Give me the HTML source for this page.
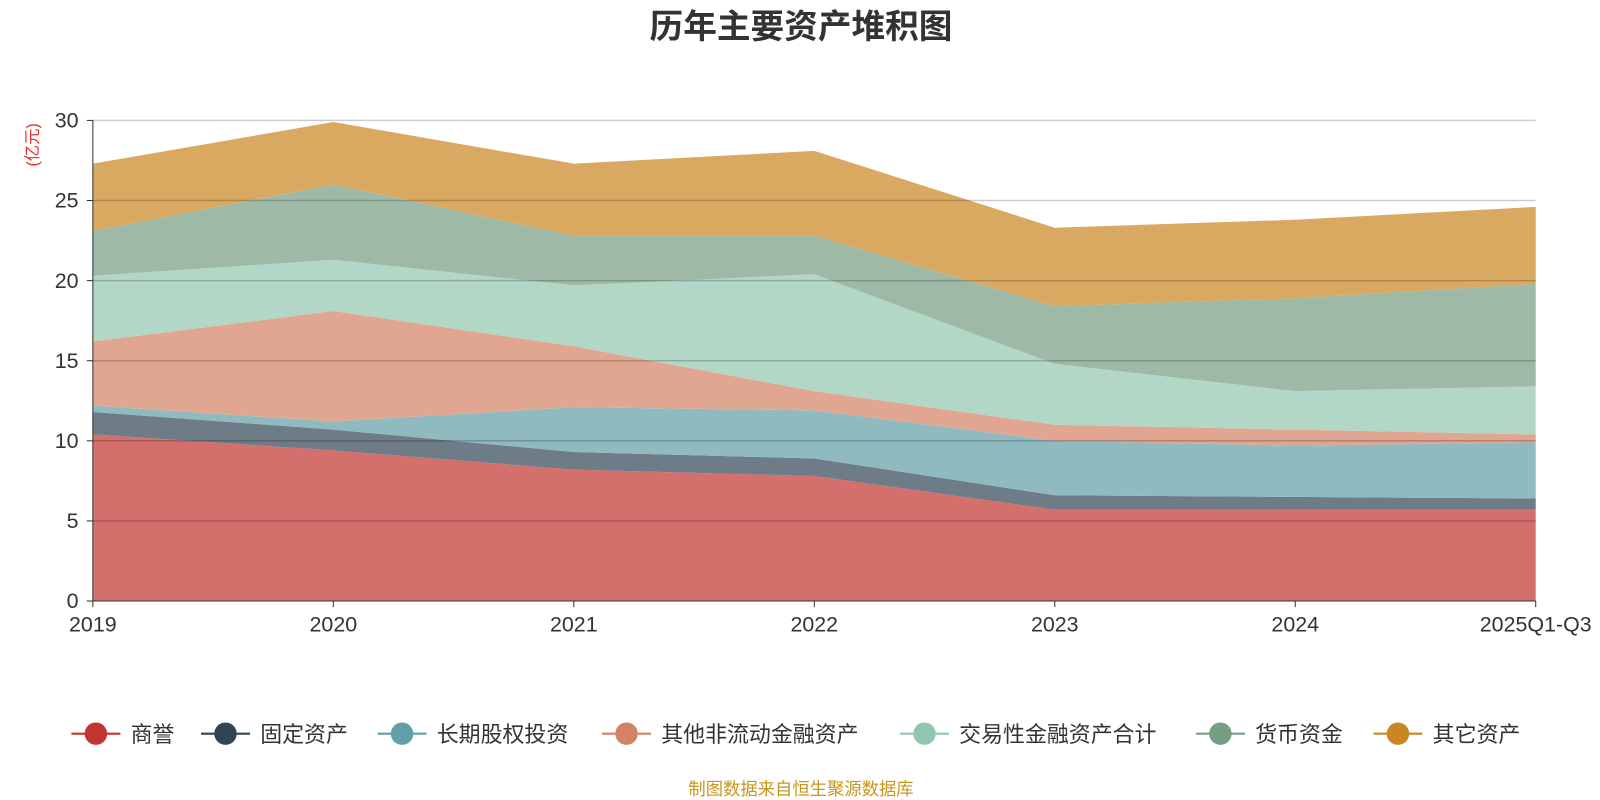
<!DOCTYPE html>
<html><head><meta charset="utf-8"><style>
body{margin:0;background:#fff;}
svg{display:block;font-family:"Liberation Sans","Noto Sans CJK SC",sans-serif;}
</style></head><body>
<svg id="c" width="1600" height="800" viewBox="0 0 1568 784">
<text x="785" y="37" text-anchor="middle" font-size="33" font-weight="bold" fill="#333">历年主要资产堆积图</text>
<text transform="translate(37,142) rotate(-90)" text-anchor="middle" font-size="16" fill="#e03030">(亿元)</text>
<text x="785" y="779" text-anchor="middle" font-size="17" fill="#c8961e">制图数据来自恒生聚源数据库</text>
<g id="areas"></g><g id="grid"></g><g id="axes"></g><g id="legend"></g>
</svg>
<script>
const categories=["2019","2020","2021","2022","2023","2024","2025Q1-Q3"];
const seriesNames=["商誉","固定资产","长期股权投资","其他非流动金融资产","交易性金融资产合计","货币资金","其它资产"];
const sGoodwill=[10.4,9.4,8.2,7.8,5.7,5.7,5.7];
const sFixed=[1.4,1.3,1.1,1.1,0.9,0.8,0.7];
const sEquity=[0.4,0.5,2.8,3.0,3.4,3.2,3.5];
const sOtherFin=[4.0,6.9,3.8,1.2,1.0,1.0,0.5];
const sTrading=[4.1,3.2,3.8,7.3,3.8,2.4,3.0];
const sCash=[2.8,4.7,3.1,2.4,3.6,5.8,6.4];
const sOther=[4.2,3.9,4.5,5.3,4.9,4.9,4.8];
const yTicks=[0,5,10,15,20,25,30];
const series=[sGoodwill,sFixed,sEquity,sOtherFin,sTrading,sCash,sOther];
const fills=["#d4706c","#6e7c87","#8fbac0","#e0a691","#b2d7c6","#9eb9a6","#d9a962"];
const colors=["#c23531","#2f4554","#61a0a8","#d48265","#91c7ae","#749f83","#ca8622"];
const NS="http://www.w3.org/2000/svg";
const x0=91,x1=1505,y0=589,y1=118;
const xs=i=>x0+(x1-x0)*i/(categories.length-1);
const ys=v=>y0-(y0-y1)*v/30;
function mk(t,a,p){const e=document.createElementNS(NS,t);for(const k in a)e.setAttribute(k,a[k]);p.appendChild(e);return e;}
const areas=document.getElementById('areas');
let base=categories.map(()=>0);
series.forEach((s,si)=>{
 const top=base.map((b,i)=>b+s[i]);
 let d="M"+top.map((v,i)=>xs(i)+","+ys(v)).join("L");
 for(let i=categories.length-1;i>=0;i--)d+="L"+xs(i)+","+ys(base[i]);
 const p=mk('path',{d:d+"Z",fill:fills[si]},areas);
 
 
 base=top;
});
const grid=document.getElementById('grid'),axes=document.getElementById('axes');
yTicks.forEach(t=>{
 if(t>0){const l=mk('line',{x1:x0,x2:x1,y1:ys(t),y2:ys(t),stroke:"rgba(0,0,0,0.2)","stroke-width":1.5},grid);
 
 }
 mk('line',{x1:x0-6,x2:x0,y1:ys(t),y2:ys(t),stroke:"#333"},axes);
 const tx=mk('text',{x:x0-14,y:ys(t)+7,"text-anchor":"end","font-size":21,fill:"#333"},axes);
 tx.textContent=t;
 
 
});
mk('line',{x1:x0,x2:x0,y1:y1,y2:y0,stroke:"#333"},axes);
mk('line',{x1:x0,x2:x1,y1:y0,y2:y0,stroke:"#333"},axes);
categories.forEach((c,i)=>{
 mk('line',{x1:xs(i),x2:xs(i),y1:y0,y2:y0+6,stroke:"#333"},axes);
 const tx=mk('text',{x:xs(i),y:y0+30,"text-anchor":"middle","font-size":21,fill:"#333"},axes);
 tx.textContent=c;
 
 
});
const lg=document.getElementById('legend');
const lx=[70,197,370,590,882,1172,1346];
seriesNames.forEach((n,i)=>{
 const g=mk('g',{},lg);
 
 
 mk('line',{x1:lx[i],x2:lx[i]+48,y1:719,y2:719,stroke:colors[i],"stroke-width":2},g);
 mk('circle',{cx:lx[i]+24,cy:719,r:11,fill:colors[i]},g);
 const t=mk('text',{x:lx[i]+58,y:727,"font-size":21.5,fill:"#333"},g);
 t.textContent=n;
});
</script>
</body></html>
